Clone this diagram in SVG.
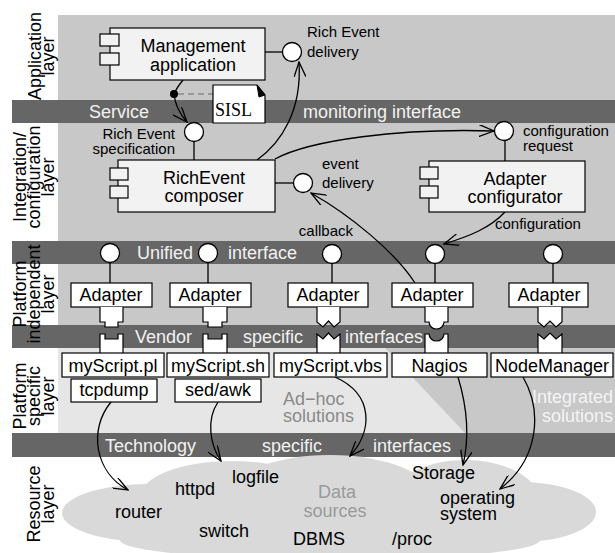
<svg xmlns="http://www.w3.org/2000/svg" width="615" height="553" viewBox="0 0 615 553">
<defs>
<style>
text{font-family:"Liberation Sans",Arial,sans-serif;}
.lbl{font-size:18px;fill:#000;}
.lay{font-size:18px;fill:#000;text-anchor:middle;}
.sm{font-size:15px;fill:#000;}
.band{fill:#666666;}
.bt{font-size:18px;fill:#f2f2f2;}
.box{fill:#f2f2f2;stroke:#000;stroke-width:1.2;}
.wbox{fill:#ffffff;stroke:#000;stroke-width:1.2;}
.ln{fill:none;stroke:#000;stroke-width:1.3;}
.arr{fill:none;stroke:#000;stroke-width:1.3;marker-end:url(#ah);}
.ifc{fill:#ffffff;stroke:#000;stroke-width:1.3;}
.plug{fill:#ffffff;stroke:#000;stroke-width:1.2;}
.mid{text-anchor:middle;}
.cloud{fill:#d9d9d9;}
</style>
<marker id="ah" viewBox="0 0 16 12" refX="15" refY="6" markerWidth="16" markerHeight="12" markerUnits="userSpaceOnUse" orient="auto"><path d="M0,0 L15,6 L0,12" fill="none" stroke="#000" stroke-width="1.3"/></marker>
</defs>

<g id="background">
<rect x="58" y="15" width="557" height="418" fill="#c8c8c8"/>
<polygon points="58,348 385,348 465,433 58,433" fill="#e6e6e6"/>
<rect class="band" x="12" y="100" width="603" height="23"/>
<rect class="band" x="12" y="241" width="603" height="23"/>
<rect class="band" x="12" y="325" width="603" height="23"/>
<rect class="band" x="12" y="433" width="603" height="24"/>
<text class="bt" x="89" y="118">Service</text>
<text class="bt" x="303" y="118">monitoring interface</text>
<text class="bt" x="137" y="259">Unified</text>
<text class="bt" x="228" y="259">interface</text>
<text class="bt" x="135" y="343">Vendor</text>
<text class="bt" x="243" y="343">specific</text>
<text class="bt" x="345" y="343">interfaces</text>
<text class="bt" x="105" y="452">Technology</text>
<text class="bt" x="262" y="452">specific</text>
<text class="bt" x="373" y="452">interfaces</text>
<text class="lbl" x="283" y="405" style="fill:#8a8a8a">Ad−hoc</text>
<text class="lbl" x="283" y="422" style="fill:#8a8a8a">solutions</text>
<text class="lbl" x="613" y="403" style="fill:#f4f4f4;text-anchor:end">Integrated</text>
<text class="lbl" x="613" y="422" style="fill:#f4f4f4;text-anchor:end">solutions</text>
</g>

<g id="layer-labels">
<text class="lay" transform="translate(41,56) rotate(-90)"><tspan x="0" y="0">Application</tspan><tspan x="0" dy="13">layer</tspan></text>
<text class="lay" transform="translate(26,177) rotate(-90)"><tspan x="0" y="0">Integration/</tspan><tspan x="0" dy="14">configuration</tspan><tspan x="0" dy="14">layer</tspan></text>
<text class="lay" transform="translate(26,294) rotate(-90)"><tspan x="0" y="0">Platform</tspan><tspan x="0" dy="14">independent</tspan><tspan x="0" dy="14">layer</tspan></text>
<text class="lay" transform="translate(26,396) rotate(-90)"><tspan x="0" y="0">Platform</tspan><tspan x="0" dy="14">specific</tspan><tspan x="0" dy="14">layer</tspan></text>
<text class="lay" transform="translate(40,504) rotate(-90)"><tspan x="0" y="0">Resource</tspan><tspan x="0" dy="14">layer</tspan></text>
</g>

<g id="data-sources">
<ellipse class="cloud" cx="150" cy="513" rx="88" ry="29"/>
<ellipse class="cloud" cx="232" cy="497" rx="92" ry="36"/>
<ellipse class="cloud" cx="330" cy="500" rx="105" ry="45"/>
<ellipse class="cloud" cx="465" cy="502" rx="75" ry="42"/>
<ellipse class="cloud" cx="520" cy="512" rx="76" ry="30"/>
<ellipse class="cloud" cx="330" cy="540" rx="210" ry="20"/>
<text class="lbl" x="115" y="518">router</text>
<text class="lbl" x="175" y="495">httpd</text>
<text class="lbl" x="232" y="483">logfile</text>
<text class="lbl" x="199" y="537">switch</text>
<text class="lbl" x="293" y="545">DBMS</text>
<text class="lbl mid" x="337" y="498" style="fill:#9a9a9a">Data</text>
<text class="lbl mid" x="335" y="517" style="fill:#9a9a9a">sources</text>
<text class="lbl" x="412" y="479">Storage</text>
<text class="lbl" x="440" y="504">operating</text>
<text class="lbl" x="440" y="520">system</text>
<text class="lbl" x="392" y="545">/proc</text>
</g>

<g id="connectors">
<path class="ln" d="M265,52 H282"/>
<path class="ln" d="M183,80 C179,85 176,89 174,94"/>
<circle cx="174" cy="94" r="4" fill="#000"/>
<path d="M178,94 H228" fill="none" stroke="#888" stroke-width="1.3" stroke-dasharray="6,4"/>
<path class="arr" d="M174,94 C175,104 179,113 187,122"/>
<path class="ln" d="M194,142 V160"/>
<path class="arr" d="M257,160 C282,142 302,110 299,62"/>
<path class="arr" d="M275,159 C310,140 400,128 494,131"/>
<path class="ln" d="M505,141 V161"/>
<path class="ln" d="M275,183 H293"/>
<path class="arr" d="M415,283 C395,252 350,215 311,193"/>
<path class="arr" d="M505,212 C490,228 470,236 444,244"/>
<path class="ln" d="M110,263 V283 M208,263 V283 M332,263 V283 M435,263 V283 M553,263 V283"/>
<path class="arr" d="M111,402 C88,430 95,472 128,490"/>
<path class="arr" d="M218,402 C206,420 210,445 221,461"/>
<path class="arr" d="M335,377 C375,395 372,432 350,456"/>
<path class="arr" d="M458,377 C468,410 469,440 463,465"/>
<path class="arr" d="M523,377 C542,410 540,458 500,489"/>
</g>

<g id="management-application">
<rect class="box" x="110" y="28" width="155" height="52"/>
<rect class="box" x="100" y="34" width="19" height="12"/>
<rect class="box" x="100" y="53" width="19" height="12"/>
<text class="lbl mid" x="193" y="52">Management</text>
<text class="lbl mid" x="193" y="71">application</text>
</g>

<g id="rich-event-delivery">
<circle class="ifc" cx="292" cy="52" r="9.5"/>
<text class="sm" x="307" y="37">Rich Event</text>
<text class="sm" x="307" y="57">delivery</text>
</g>

<g id="sisl">
<path d="M213,85 H257 L265,95 V123 H213 Z" fill="#fff" stroke="#000" stroke-width="1.2"/>
<path d="M257,85 L265,95 L259,97 Z" fill="#000" stroke="#000" stroke-width="1"/>
<text x="215" y="116" style="font-family:'Liberation Serif','Times New Roman',serif;font-size:18px">SISL</text>
</g>

<g id="rich-event-specification">
<circle class="ifc" cx="194" cy="132" r="9.5"/>
<text class="sm" x="175" y="139" text-anchor="end">Rich Event</text>
<text class="sm" x="175" y="154" text-anchor="end">specification</text>
</g>

<g id="richevent-composer">
<rect class="box" x="118" y="160" width="157" height="52"/>
<rect class="box" x="110" y="168" width="18" height="12"/>
<rect class="box" x="110" y="186" width="18" height="12"/>
<text class="lbl mid" x="204" y="184">RichEvent</text>
<text class="lbl mid" x="204" y="202">composer</text>
</g>

<g id="event-delivery">
<circle class="ifc" cx="303" cy="183" r="9.5"/>
<text class="sm" x="322" y="169">event</text>
<text class="sm" x="322" y="188">delivery</text>
<text class="sm" x="353" y="236" text-anchor="end">callback</text>
</g>

<g id="configuration-request">
<circle class="ifc" cx="504" cy="131" r="9.5"/>
<text class="sm" x="523" y="136">configuration</text>
<text class="sm" x="523" y="151">request</text>
</g>

<g id="adapter-configurator">
<rect class="box" x="429" y="161" width="156" height="51"/>
<rect class="box" x="420" y="167" width="18" height="12"/>
<rect class="box" x="420" y="186" width="18" height="12"/>
<text class="lbl mid" x="515" y="185">Adapter</text>
<text class="lbl mid" x="515" y="203">configurator</text>
<text class="sm" x="495" y="229">configuration</text>
</g>

<g id="unified-interfaces">
<circle class="ifc" cx="110" cy="253" r="9.5"/>
<circle class="ifc" cx="208" cy="253" r="9.5"/>
<circle class="ifc" cx="332" cy="254" r="9.5"/>
<circle class="ifc" cx="435" cy="254" r="9.5"/>
<circle class="ifc" cx="553" cy="254" r="9.5"/>
</g>

<g id="adapter-1">
<rect class="wbox" x="71" y="283" width="81" height="24"/>
<text class="lbl mid" x="111" y="301">Adapter</text>
<path class="plug" d="M100,307 V322 H105 V327 H118 V322 H123 V307"/>
</g>
<g id="adapter-2">
<rect class="wbox" x="170" y="283" width="81" height="24"/>
<text class="lbl mid" x="210" y="301">Adapter</text>
<path class="plug" d="M203,307 V322 H208 V327 H222 V322 H227 V307"/>
</g>
<g id="adapter-3">
<rect class="wbox" x="288" y="283" width="80" height="24"/>
<text class="lbl mid" x="328" y="301">Adapter</text>
<path class="plug" d="M317,307 V322 L323,327 L328.5,321 L334,327 L340,322 V307"/>
</g>
<g id="adapter-4">
<rect class="wbox" x="392" y="283" width="81" height="24"/>
<text class="lbl mid" x="432" y="301">Adapter</text>
<path class="plug" d="M425,307 V322 H429 A7.5,7 0 0 0 444,322 H448 V307"/>
</g>
<g id="adapter-5">
<rect class="wbox" x="509" y="283" width="79" height="24"/>
<text class="lbl mid" x="549" y="301">Adapter</text>
<path class="plug" d="M538,307 V322 L544,327 L550,321 L556,327 L562,322 V307"/>
</g>

<g id="myscript-pl">
<path class="plug" d="M100,353 V334 H105 V339 H118 V334 H123 V353"/>
<rect class="wbox" x="62" y="353" width="102" height="24"/>
<text class="lbl mid" x="113" y="372">myScript.pl</text>
<rect class="wbox" x="71" y="379" width="86" height="23"/>
<text class="lbl mid" x="114" y="396">tcpdump</text>
</g>
<g id="myscript-sh">
<path class="plug" d="M203,353 V334 H208 V339 H222 V334 H227 V353"/>
<rect class="wbox" x="167" y="353" width="102" height="24"/>
<text class="lbl mid" x="218" y="372">myScript.sh</text>
<rect class="wbox" x="175" y="379" width="86" height="23"/>
<text class="lbl mid" x="218" y="396">sed/awk</text>
</g>
<g id="myscript-vbs">
<path class="plug" d="M317,353 V334 L323,339 L328.5,333 L334,339 L340,334 V353"/>
<rect class="wbox" x="274" y="353" width="113" height="24"/>
<text class="lbl mid" x="330.5" y="372">myScript.vbs</text>
</g>
<g id="nagios">
<path class="plug" d="M425,353 V334 H429 A7.5,7 0 0 0 444,334 H448 V353"/>
<rect class="wbox" x="392" y="353" width="95" height="24"/>
<text class="lbl mid" x="439.5" y="372">Nagios</text>
</g>
<g id="nodemanager">
<path class="plug" d="M538,353 V334 L544,339 L550,333 L556,339 L562,334 V353"/>
<rect class="wbox" x="491" y="353" width="122" height="24"/>
<text class="lbl mid" x="552" y="372">NodeManager</text>
</g>
</svg>
